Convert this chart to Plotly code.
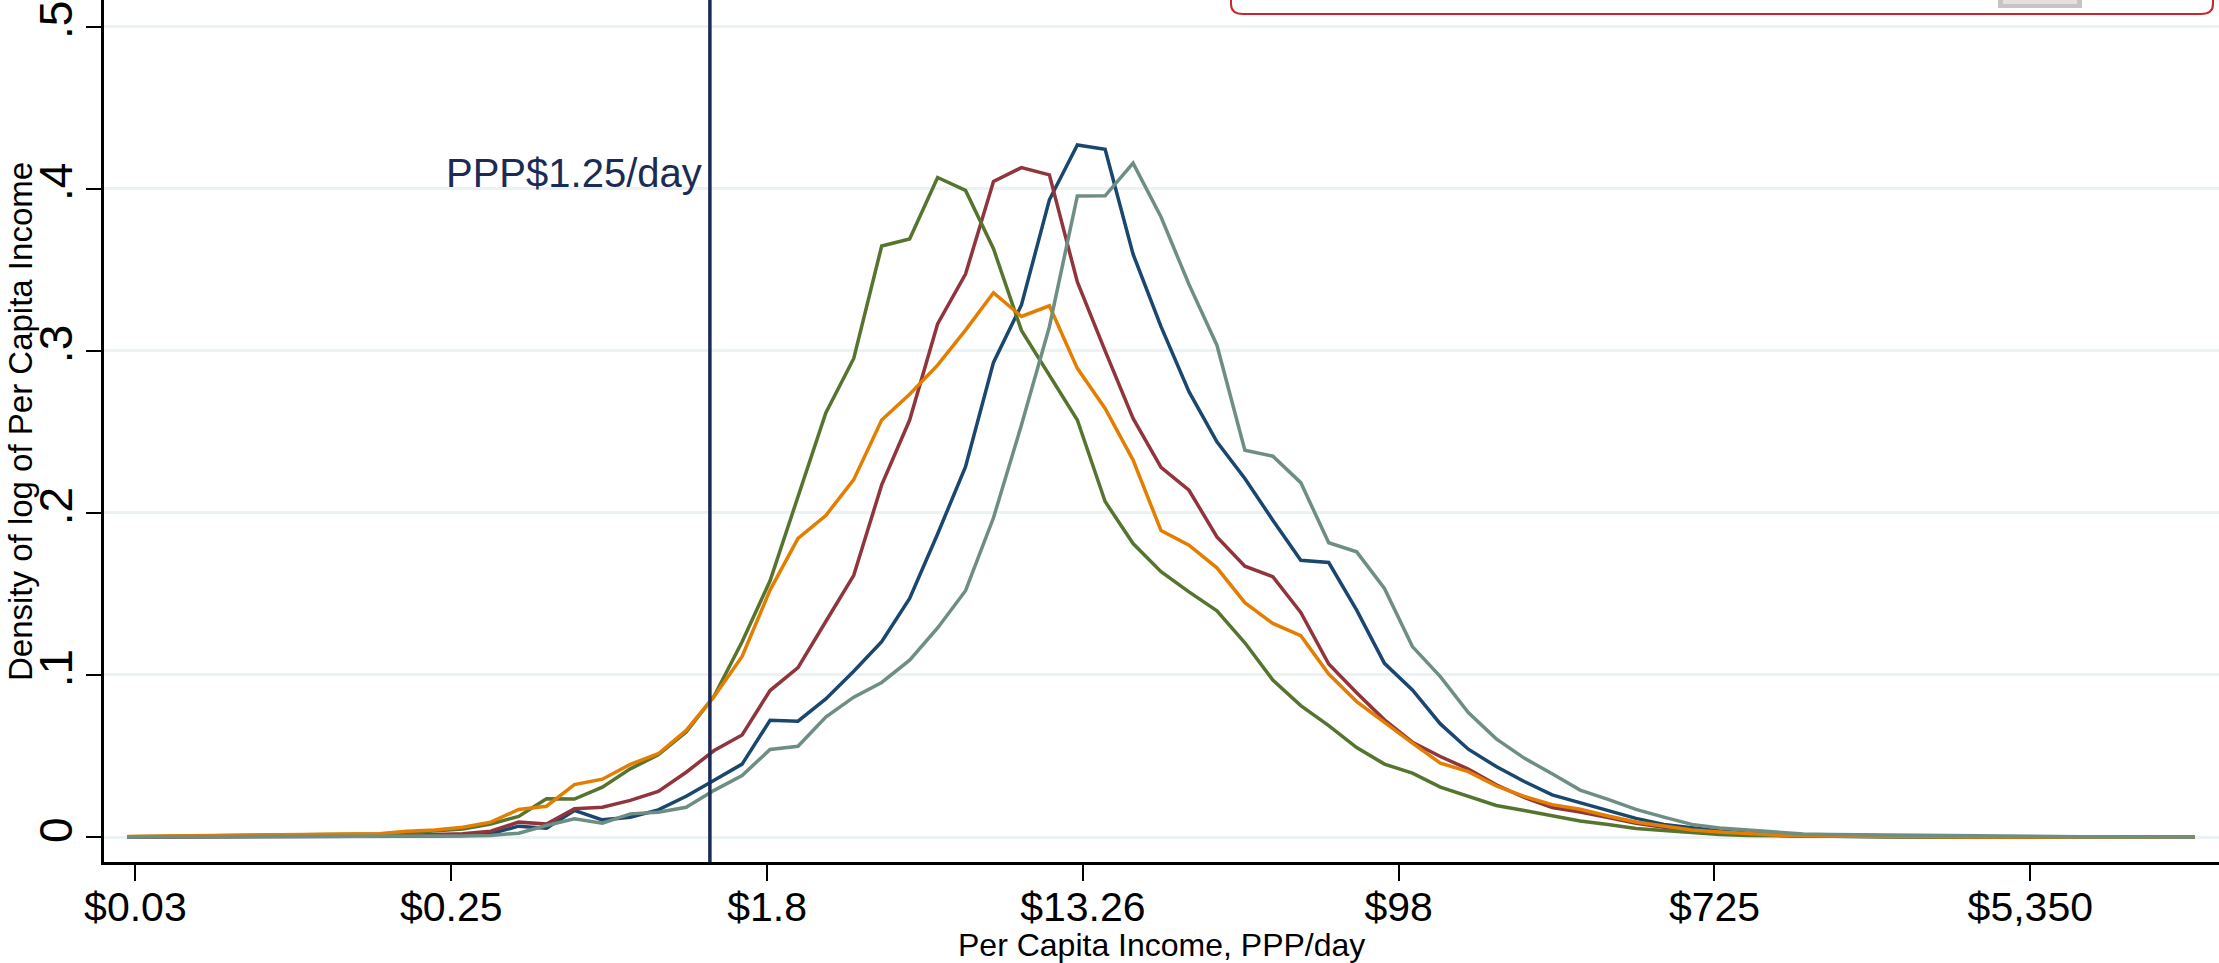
import plotly.graph_objects as go

# log(per-capita income, PPP$/day) grid of the density estimates
log_income = [-3.465, -3.288, -3.111, -2.934, -2.757, -2.581, -2.404, -2.227, -2.050, -1.873,
              -1.696, -1.519, -1.342, -1.165, -0.988, -0.812, -0.635, -0.458, -0.281, -0.104,
              0.073, 0.250, 0.427, 0.604, 0.781, 0.957, 1.134, 1.311, 1.488, 1.665,
              1.842, 2.019, 2.196, 2.373, 2.550, 2.726, 2.903, 3.080, 3.257, 3.434,
              3.611, 3.788, 3.965, 4.142, 4.319, 4.495, 4.672, 4.849, 5.026, 5.203,
              5.380, 5.557, 5.734, 5.911, 6.088, 6.264, 6.441, 6.618, 6.795, 6.972,
              7.149, 7.326, 7.503, 7.680, 7.857, 8.033, 8.210, 8.387, 8.564, 8.741,
              8.918, 9.095, 9.272, 9.449, 9.626]

navy_series = [0.0001, 0.0001, 0.0001, 0.0001, 0.0002, 0.0002, 0.0002, 0.0003, 0.0003, 0.0004,
               0.0005, 0.0007, 0.0010, 0.0020, 0.0067, 0.0055, 0.0164, 0.0106, 0.0122, 0.0168,
               0.0252, 0.0350, 0.0450, 0.0720, 0.0715, 0.0852, 0.1023, 0.1205, 0.1472, 0.1870,
               0.2285, 0.2929, 0.3283, 0.3932, 0.4270, 0.4244, 0.3597, 0.3149, 0.2748, 0.2439,
               0.2212, 0.1955, 0.1708, 0.1694, 0.1400, 0.1072, 0.0908, 0.0698, 0.0542, 0.0435,
               0.0343, 0.0260, 0.0212, 0.0160, 0.0115, 0.0078, 0.0058, 0.0037, 0.0023, 0.0012,
               0.0007, 0.0005, 0.0004, 0.0003, 0.0002, 0.0001, 0.0001, 0.0001, 0.0001, 0.0001,
               0.0000, 0.0000, 0.0000, 0.0000, 0.0000]

maroon_series = [0.0001, 0.0001, 0.0001, 0.0002, 0.0002, 0.0003, 0.0003, 0.0004, 0.0005, 0.0007,
                 0.0010, 0.0014, 0.0020, 0.0036, 0.0092, 0.0081, 0.0174, 0.0184, 0.0226, 0.0281,
                 0.0400, 0.0534, 0.0630, 0.0904, 0.1046, 0.1330, 0.1615, 0.2173, 0.2573, 0.3166,
                 0.3474, 0.4045, 0.4131, 0.4086, 0.3425, 0.3000, 0.2583, 0.2281, 0.2140, 0.1852,
                 0.1671, 0.1606, 0.1386, 0.1068, 0.0891, 0.0723, 0.0585, 0.0497, 0.0419, 0.0322,
                 0.0244, 0.0182, 0.0155, 0.0120, 0.0085, 0.0060, 0.0040, 0.0028, 0.0018, 0.0011,
                 0.0007, 0.0005, 0.0004, 0.0003, 0.0002, 0.0002, 0.0001, 0.0001, 0.0001, 0.0001,
                 0.0000, 0.0000, 0.0000, 0.0000, 0.0000]

green_series = [0.0002, 0.0004, 0.0005, 0.0006, 0.0008, 0.0009, 0.0011, 0.0013, 0.0015, 0.0019,
                0.0026, 0.0036, 0.0050, 0.0081, 0.0127, 0.0236, 0.0234, 0.0308, 0.0421, 0.0507,
                0.0648, 0.0870, 0.1205, 0.1581, 0.2093, 0.2617, 0.2953, 0.3647, 0.3690, 0.4070,
                0.3990, 0.3630, 0.3126, 0.2845, 0.2573, 0.2070, 0.1811, 0.1637, 0.1513, 0.1396,
                0.1199, 0.0969, 0.0811, 0.0688, 0.0552, 0.0450, 0.0394, 0.0308, 0.0251, 0.0195,
                0.0164, 0.0130, 0.0099, 0.0078, 0.0053, 0.0041, 0.0027, 0.0016, 0.0010, 0.0007,
                0.0005, 0.0004, 0.0003, 0.0002, 0.0002, 0.0001, 0.0001, 0.0001, 0.0001, 0.0000,
                0.0000, 0.0000, 0.0000, 0.0000, 0.0000]

orange_series = [0.0003, 0.0005, 0.0006, 0.0008, 0.0009, 0.0011, 0.0013, 0.0015, 0.0018, 0.0021,
                 0.0036, 0.0044, 0.0060, 0.0092, 0.0170, 0.0190, 0.0324, 0.0357, 0.0448, 0.0514,
                 0.0658, 0.0868, 0.1114, 0.1524, 0.1843, 0.1984, 0.2205, 0.2573, 0.2732, 0.2912,
                 0.3128, 0.3359, 0.3212, 0.3278, 0.2892, 0.2645, 0.2326, 0.1891, 0.1801, 0.1661,
                 0.1446, 0.1318, 0.1242, 0.1006, 0.0836, 0.0706, 0.0579, 0.0456, 0.0404, 0.0316,
                 0.0251, 0.0200, 0.0171, 0.0130, 0.0093, 0.0068, 0.0043, 0.0031, 0.0021, 0.0012,
                 0.0008, 0.0006, 0.0004, 0.0003, 0.0002, 0.0002, 0.0001, 0.0001, 0.0001, 0.0001,
                 0.0000, 0.0000, 0.0000, 0.0000, 0.0000]

teal_series = [0.0001, 0.0001, 0.0001, 0.0001, 0.0001, 0.0001, 0.0001, 0.0001, 0.0001, 0.0002,
               0.0003, 0.0004, 0.0006, 0.0010, 0.0024, 0.0071, 0.0112, 0.0085, 0.0143, 0.0153,
               0.0184, 0.0288, 0.0380, 0.0540, 0.0560, 0.0740, 0.0863, 0.0954, 0.1091, 0.1290,
               0.1520, 0.1970, 0.2542, 0.3149, 0.3956, 0.3957, 0.4158, 0.3826, 0.3410, 0.3035,
               0.2387, 0.2350, 0.2187, 0.1816, 0.1760, 0.1534, 0.1175, 0.0990, 0.0768, 0.0606,
               0.0487, 0.0390, 0.0290, 0.0233, 0.0171, 0.0123, 0.0078, 0.0056, 0.0043, 0.0027,
               0.0019, 0.0016, 0.0014, 0.0010, 0.0008, 0.0006, 0.0005, 0.0004, 0.0003, 0.0003,
               0.0002, 0.0002, 0.0001, 0.0001, 0.0001]

tick_positions = [-3.415, -1.415, 0.585, 2.585, 4.585, 6.585, 8.585]
tick_labels = ["$0.03", "$0.25", "$1.8", "$13.26", "$98", "$725", "$5,350"]
y_ticks = [0, 0.1, 0.2, 0.3, 0.4, 0.5]
y_tick_labels = ["0", ".1", ".2", ".3", ".4", ".5"]
poverty_line = 0.2231  # ln(1.25)

W, H = 2219, 963
L, R, T, B = 104, 0, 0, 101
FONT = "Liberation Sans, Arial, Helvetica, sans-serif"

series = [
    (navy_series, "#1a476f"),
    (maroon_series, "#90353b"),
    (green_series, "#55752f"),
    (orange_series, "#e37e00"),
    (teal_series, "#6e8e84"),
]

fig = go.Figure()
for vals, col in series:
    fig.add_trace(go.Scatter(x=log_income, y=vals, mode="lines",
                             line=dict(color=col, width=3.5), showlegend=False,
                             hoverinfo="skip"))


def px2paper(px, py):
    return (px - L) / (W - L - R), (H - B - py) / (H - T - B)


# poverty line
fig.add_shape(type="line", xref="x", yref="paper", x0=poverty_line, x1=poverty_line,
              y0=0, y1=1, line=dict(color="#1c2b55", width=3.5), layer="above")
fig.add_annotation(x=poverty_line, y=0.41, xref="x", yref="y", text="PPP$1.25/day",
                   showarrow=False, xanchor="right", yanchor="middle", xshift=-6,
                   font=dict(family=FONT, size=40, color="#1c2b55"))

# axis titles
tx, ty = px2paper(0, 945)
fig.add_annotation(x=0.5, y=ty, xref="paper", yref="paper", text="Per Capita Income, PPP/day",
                   showarrow=False, xanchor="center", yanchor="middle",
                   font=dict(family=FONT, size=32, color="black"))
ax_, ay_ = px2paper(21, 422)
fig.add_annotation(x=ax_, y=ay_, xref="paper", yref="paper",
                   text="Density of log of Per Capita Income", textangle=-90,
                   showarrow=False, xanchor="center", yanchor="middle",
                   font=dict(family=FONT, size=33, color="black"))

# cut-off legend box at the top right
x1p, _ = px2paper(1231, 0)
x2p, _ = px2paper(2213, 0)
_, ytop = px2paper(0, -20)
_, ybot = px2paper(0, 14)
_, yr = px2paper(0, 4)
rx = 12 / (W - L - R)
path = (f"M {x1p},{ytop} L {x1p},{yr} Q {x1p},{ybot} {x1p + rx},{ybot} "
        f"L {x2p - rx},{ybot} Q {x2p},{ybot} {x2p},{yr} L {x2p},{ytop}")
fig.add_shape(type="path", xref="paper", yref="paper", path=path,
              line=dict(color="#c8282d", width=2))
gx0, gy0 = px2paper(1998, -2)
gx1, gy1 = px2paper(2082, 8)
fig.add_shape(type="rect", xref="paper", yref="paper", x0=gx0, x1=gx1, y0=gy1, y1=gy0,
              line=dict(width=0), fillcolor="#c9c4c4")
hx0, hy0 = px2paper(2003, -2)
hx1, hy1 = px2paper(2077, 4)
fig.add_shape(type="rect", xref="paper", yref="paper", x0=hx0, x1=hx1, y0=hy1, y1=hy0,
              line=dict(width=0), fillcolor="#e9dede")

fig.update_layout(
    width=W, height=H,
    margin=dict(l=L, r=R, t=T, b=B, autoexpand=False),
    paper_bgcolor="white", plot_bgcolor="white",
    font=dict(family=FONT, color="black"),
    xaxis=dict(range=[-3.614, 9.78], tickvals=tick_positions, ticktext=tick_labels,
               showgrid=False, zeroline=False, showline=True, linecolor="black",
               linewidth=2.5, ticks="outside", ticklen=16, tickwidth=2, tickcolor="black",
               tickfont=dict(size=41, family=FONT), ticklabelstandoff=-9),
    yaxis=dict(range=[-0.0154, 0.5165], tickvals=y_ticks, ticktext=y_tick_labels,
               showgrid=True, gridcolor="#eaf2f3", gridwidth=3, zeroline=False,
               showline=True, linecolor="black", linewidth=2.5, ticks="outside",
               ticklen=15, tickwidth=2, tickcolor="black", tickangle=-90,
               tickfont=dict(size=46, family=FONT), ticklabelstandoff=-4),
)

fig.write_html("out.html")
